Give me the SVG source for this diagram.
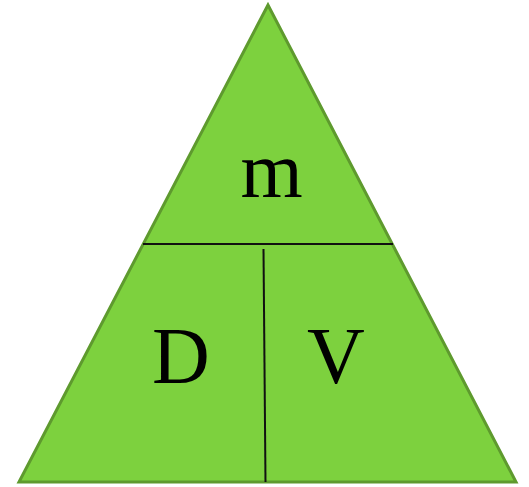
<svg xmlns="http://www.w3.org/2000/svg" width="529" height="487" viewBox="0 0 529 487">
<style>
.lbl{font-family:"Liberation Serif","Times New Roman",serif;font-size:80px;fill:#000;text-anchor:middle}
.div{stroke:#111;stroke-width:2;fill:none}
</style>
<rect width="529" height="487" fill="#fff"/>
<g id="triangle">
<polygon points="268,5 19,482 516,482" fill="#7dd13e" stroke="#5e9a2e" stroke-width="3" stroke-linejoin="miter"/>
</g>
<g id="connectors">
<line class="div" x1="143" y1="244" x2="393" y2="244"/>
<line class="div" x1="263.5" y1="249" x2="265.5" y2="482"/>
</g>
<g id="node-m"><text class="lbl" x="271.5" y="197">m</text></g>
<g id="node-D"><text class="lbl" x="181" y="383">D</text></g>
<g id="node-V"><text class="lbl" x="336" y="383">V</text></g>
</svg>
